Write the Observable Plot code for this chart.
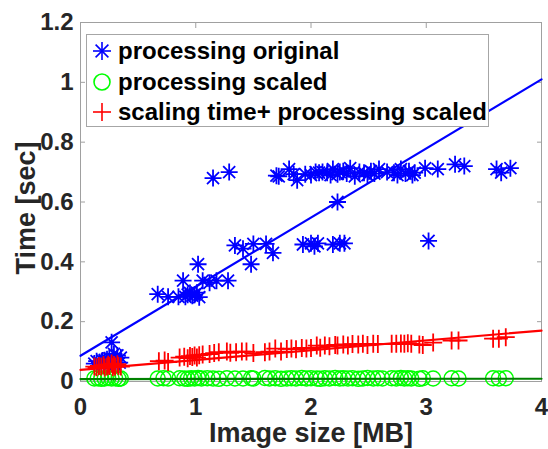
<!DOCTYPE html>
<html>
<head>
<meta charset="utf-8">
<script src="https://cdn.jsdelivr.net/npm/d3@7"></script>
<script src="https://cdn.jsdelivr.net/npm/@observablehq/plot@0.6"></script>
<style>
  html, body { margin: 0; padding: 0; background: #fff; }
  #wrap { position: relative; width: 548px; height: 449px; overflow: hidden; font-family: "Liberation Sans", Arial, Helvetica, sans-serif; }
  #legend { position: absolute; left: 86px; top: 34px; width: 403px; height: 93px; border: 1px solid #a6a6a6; background: #fff; box-sizing: border-box; padding-top: 1px; }
  .row { height: 30.5px; display: flex; align-items: center; font-weight: bold; font-size: 24px; color: #000; white-space: nowrap; }
  .row svg { margin-left: 4px; margin-right: 5px; flex: none; }
</style>
</head>
<body>
<div id="wrap"><div id="chart"></div><div id="legend"></div></div>
<script>
// ---- Data ----
const seriesNames = ["processing original", "processing scaled", "scaling time+ processing scaled"];
const seriesColors = ["#0000ff", "#00ff00", "#ff0000"];
const fitColors = ["#0000ff", "#008000", "#ff0000"];

const originalX = [
  0.12,0.14,0.165,0.19,0.2,0.21,0.23,0.25,0.26,0.27,0.28,0.29,0.30,0.32,0.34,0.35,
  0.67,0.76,0.85,0.89,0.91,0.93,0.95,0.97,0.99,1.01,1.03,1.02,1.06,1.12,1.18,1.28,1.15,1.29,
  1.34,1.41,1.48,1.50,1.61,1.67,
  1.70,1.72,1.81,1.85,1.88,1.95,2.00,2.04,2.07,2.10,2.14,2.17,2.19,2.23,2.25,2.28,2.31,2.34,2.38,2.42,
  2.46,2.49,2.52,2.55,2.59,2.66,2.72,2.75,2.78,2.82,2.85,2.88,2.90,2.99,3.10,3.25,3.33,3.61,3.65,3.73,
  1.93,2.00,2.03,2.06,2.19,2.25,2.29,2.23,3.02
];
const originalY = [
  0.06,0.068,0.064,0.07,0.058,0.071,0.074,0.077,0.06,0.131,0.064,0.092,0.058,0.087,0.063,0.08,
  0.292,0.283,0.283,0.337,0.283,0.29,0.296,0.287,0.29,0.297,0.282,0.392,0.337,0.33,0.337,0.337,0.68,0.70,
  0.455,0.444,0.392,0.46,0.46,0.43,
  0.688,0.686,0.71,0.693,0.673,0.693,0.69,0.70,0.698,0.70,0.698,0.69,0.71,0.693,0.70,0.703,0.695,0.713,0.686,0.70,
  0.698,0.69,0.703,0.695,0.71,0.70,0.698,0.69,0.71,0.695,0.703,0.69,0.698,0.713,0.71,0.726,0.72,0.71,0.698,0.713,
  0.458,0.462,0.452,0.462,0.458,0.462,0.462,0.6,0.47
];

const scaledX = [
  0.12,0.15,0.18,0.21,0.24,0.27,0.3,0.33,0.35,
  0.67,0.72,0.76,
  0.86,0.9,0.93,0.96,0.99,1.02,1.05,1.1,1.15,1.2,1.27,1.34,
  1.41,1.48,1.5,1.6,1.64,1.69,1.74,1.79,1.83,1.87,
  1.92,1.96,2.0,2.05,2.08,2.12,2.16,2.21,2.25,2.28,
  2.32,2.36,2.41,2.45,2.49,2.54,2.58,2.62,
  2.7,2.74,2.78,2.81,2.84,2.87,2.94,2.97,3.06,3.22,3.28,3.58,3.63,3.69
];
const scaledY = [
  0.010,0.011,0.009,0.010,0.012,0.010,0.011,0.009,0.010,
  0.010,0.011,0.010,
  0.011,0.010,0.009,0.011,0.010,0.012,0.010,0.011,0.010,0.009,0.011,0.010,
  0.010,0.011,0.010,0.012,0.010,0.011,0.009,0.010,0.011,0.010,
  0.012,0.010,0.011,0.010,0.009,0.011,0.010,0.012,0.010,0.011,
  0.010,0.011,0.009,0.010,0.012,0.010,0.011,0.010,
  0.011,0.010,0.012,0.010,0.011,0.010,0.009,0.011,0.010,0.011,0.010,0.011,0.010,0.011
];

const combinedX = [
  0.12,0.14,0.16,0.18,0.2,0.21,0.23,0.24,0.25,0.27,0.28,0.29,0.3,0.32,0.33,0.35,
  0.68,0.73,0.76,
  0.86,0.9,0.93,0.95,0.97,0.99,1.01,1.03,1.06,1.12,1.16,1.2,1.27,1.3,1.35,
  1.40,1.44,1.50,1.60,1.64,1.69,1.74,1.79,1.83,1.87,1.92,1.96,2.0,2.05,2.08,2.12,2.16,2.21,2.23,2.28,
  2.32,2.36,2.41,2.45,2.49,2.54,2.58,
  2.7,2.74,2.78,2.81,2.84,2.87,2.94,2.97,3.06,3.22,3.28,3.58,3.63,3.69
];
const combinedY = [
  0.05,0.048,0.052,0.05,0.055,0.047,0.05,0.056,0.052,0.06,0.048,0.055,0.05,0.058,0.052,0.05,
  0.068,0.07,0.065,
  0.08,0.083,0.078,0.085,0.082,0.087,0.08,0.088,0.09,0.092,0.095,0.098,0.1,0.096,0.098,
  0.1,0.1,0.095,0.098,0.1,0.11,0.1,0.109,0.11,0.108,0.112,0.11,0.112,0.12,0.113,0.12,0.118,0.122,0.12,0.124,
  0.12,0.125,0.124,0.126,0.122,0.126,0.125,
  0.126,0.126,0.127,0.126,0.128,0.126,0.124,0.122,0.13,0.137,0.137,0.143,0.143,0.148
];

// linear fits (intercept, slope)
const fitIntercept = [0.086, 0.008, 0.039];
const fitSlope = [0.231, 0.0003, 0.0328];

const xDomain = [0, 4];
const yDomain = [0, 1.2];
const xTicks = [0, 1, 2, 3, 4];
const xTickLabels = ["0", "1", "2", "3", "4"];
const yTicks = [0, 0.2, 0.4, 0.6, 0.8, 1, 1.2];
const yTickLabels = ["0", "0.2", "0.4", "0.6", "0.8", "1", "1.2"];

// ---- Build ----
const zip = (xs, ys) => xs.map((x, i) => ({x, y: ys[i]}));
const original = zip(originalX, originalY);
const scaled = zip(scaledX, scaledY);
const combined = zip(combinedX, combinedY);
const fitLine = i => xDomain.map(x => ({x, y: fitIntercept[i] + fitSlope[i] * x}));

const starSym = {draw(ctx, size) {
  const r = Math.sqrt(size / Math.PI), d = r * Math.SQRT1_2;
  ctx.moveTo(-r, 0); ctx.lineTo(r, 0);
  ctx.moveTo(0, -r); ctx.lineTo(0, r);
  ctx.moveTo(-d, -d); ctx.lineTo(d, d);
  ctx.moveTo(-d, d); ctx.lineTo(d, -d);
}};
const plusSym = {draw(ctx, size) {
  const r = Math.sqrt(size / Math.PI);
  ctx.moveTo(-r, 0); ctx.lineTo(r, 0);
  ctx.moveTo(0, -r); ctx.lineTo(0, r);
}};
const circleSym = {draw(ctx, size) {
  const r = Math.sqrt(size / Math.PI);
  ctx.moveTo(r, 0); ctx.arc(0, 0, r, 0, 2 * Math.PI);
}};

const tickGray = "#a0a0a0";
const chart = Plot.plot({
  width: 548, height: 449,
  marginLeft: 80, marginRight: 7, marginTop: 22, marginBottom: 68,
  x: {domain: xDomain, label: null},
  y: {domain: yDomain, label: null},
  style: {fontFamily: "'Liberation Sans', Arial, Helvetica, sans-serif", fontSize: "24px", fontWeight: "bold", color: "#262626", background: "#fff", overflow: "visible"},
  marks: [
    Plot.frame({stroke: tickGray}),
    Plot.axisX(xTicks, {anchor: "bottom", tickSize: -5, tickFormat: () => "", stroke: tickGray, label: null}),
    Plot.axisX(xTicks, {anchor: "top", tickSize: -5, tickFormat: () => "", stroke: tickGray, label: null}),
    Plot.axisY(yTicks, {anchor: "left", tickSize: -5, tickFormat: () => "", stroke: tickGray, label: null}),
    Plot.axisY(yTicks, {anchor: "right", tickSize: -5, tickFormat: () => "", stroke: tickGray, label: null}),
    Plot.axisX(xTicks, {anchor: "bottom", tickSize: 0, tickPadding: 16, fontSize: 24, fontWeight: "bold", tickFormat: d => xTickLabels[xTicks.indexOf(d)], label: null}),
    Plot.axisY(yTicks, {anchor: "left", tickSize: 0, tickPadding: 7, fontSize: 24, fontWeight: "bold", tickFormat: d => yTickLabels[yTicks.indexOf(d)], label: null}),
    Plot.text(["Image size [MB]"], {frameAnchor: "bottom", dy: 52, lineAnchor: "middle", textAnchor: "middle", fontSize: 27, fontWeight: "bold", fill: "#262626"}),
    Plot.text(["Time [sec]"], {frameAnchor: "left", dx: -54, dy: 6, lineAnchor: "middle", textAnchor: "middle", rotate: -90, fontSize: 27, fontWeight: "bold", fill: "#262626"}),
    Plot.dot(original, {x: "x", y: "y", symbol: starSym, r: 8.5, stroke: seriesColors[0], fill: "none", strokeWidth: 1.8}),
    Plot.dot(scaled, {x: "x", y: "y", symbol: circleSym, r: 7.5, stroke: seriesColors[1], fill: "none", strokeWidth: 1.5}),
    Plot.dot(combined, {x: "x", y: "y", symbol: plusSym, r: 9, stroke: seriesColors[2], fill: "none", strokeWidth: 1.8}),
    Plot.line(fitLine(0), {x: "x", y: "y", stroke: fitColors[0], strokeWidth: 2.2}),
    Plot.line(fitLine(2), {x: "x", y: "y", stroke: fitColors[2], strokeWidth: 2.2}),
    Plot.line(fitLine(1), {x: "x", y: "y", stroke: fitColors[1], strokeWidth: 2.2})
  ]
});
document.getElementById("chart").appendChild(chart);

// legend
const syms = [
  '<line x1="2" y1="15" x2="20" y2="15"/><line x1="11" y1="6" x2="11" y2="24"/><line x1="4.6" y1="8.6" x2="17.4" y2="21.4"/><line x1="4.6" y1="21.4" x2="17.4" y2="8.6"/>',
  '<circle cx="11" cy="15" r="8" fill="none"/>',
  '<line x1="2" y1="15" x2="20" y2="15"/><line x1="11" y1="6" x2="11" y2="24"/>'
];
const legend = document.getElementById("legend");
seriesNames.forEach((name, i) => {
  const row = document.createElement("div");
  row.className = "row";
  row.innerHTML = `<svg width="22" height="30" stroke="${seriesColors[i]}" stroke-width="1.6" fill="none">${syms[i]}</svg><span>${name}</span>`;
  legend.appendChild(row);
});
</script>
</body>
</html>
